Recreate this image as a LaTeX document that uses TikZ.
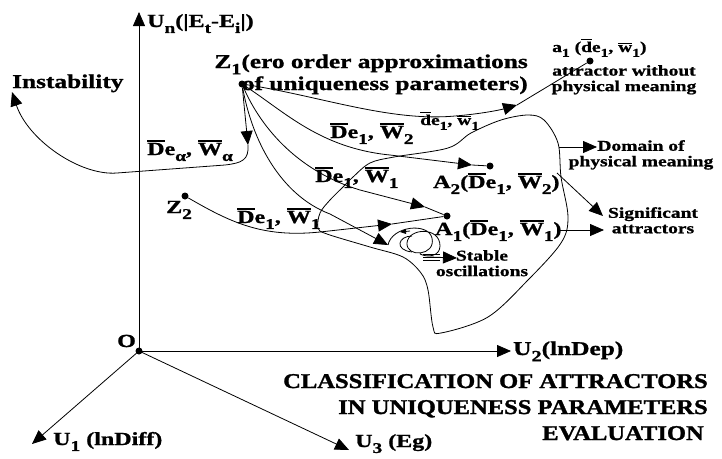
\documentclass[tikz,border=0pt]{standalone}
\usepackage{fontspec}
\setmainfont{Liberation Serif}[FakeStretch=1.3,FakeBold=1.1]
\newfontfamily\ttlfont{Liberation Serif}[FakeStretch=1.17,FakeBold=1.4]
\usepackage{graphicx}
\usetikzlibrary{arrows.meta}
\newcommand\sbs[1]{\raisebox{-0.32em}{\scalebox{0.8}{#1}}}
\newcommand\ovl[1]{\vbox{\hrule height 1.3pt\kern 1.2pt\hbox{#1}}}
\newcommand\smfont{\bfseries\fontsize{15}{15.5}\selectfont}
\begin{document}
\begin{tikzpicture}[x=1pt,y=-1pt,
 ln/.style={line width=0.8pt},
 arr/.style={ln,-{Triangle[length=14pt,width=12pt]}},
 dot/.style={circle,fill,inner sep=0pt,minimum size=7pt},
 lab/.style={inner sep=0pt,font=\bfseries\fontsize{18.5}{20}\selectfont},
 big/.style={inner sep=0pt,font=\bfseries\fontsize{19.5}{21}\selectfont},
 sml/.style={inner sep=0pt,font=\smfont},
 ttl/.style={inner sep=0pt,font=\ttlfont\bfseries\fontsize{21}{24}\selectfont}]
\useasboundingbox[fill=white] (0,0) rectangle (722,458);
% dots
\node[dot] (O) at (139,351) {};
\node[dot] (z1) at (242,84) {};
\node[dot] (z2) at (185,196) {};
\node[dot] (A1) at (447,216) {};
\node[dot] (A2) at (490,166) {};
\node[dot] (a1) at (590,61) {};
% axes
\coordinate (unTip) at (139,12);
\coordinate (u2Tip) at (511,351);
\coordinate (u1Tip) at (32,444);
\coordinate (u3Tip) at (349,450);
\draw[arr] (O.center) -- (unTip);
\draw[arr] (O.center) -- (u2Tip);
\draw[arr] (O.center) -- (u1Tip);
\draw[arr] (O.center) -- (u3Tip);
% domain of physical meaning
\draw[ln] plot[smooth cycle, tension=0.55] coordinates {(353,177) (343,187) (330,200) (320,213) (318,228) (327,234) (370,247) (403,257) (421,273) (428,290) (433,327) (441,333) (488,317) (528,280) (561,243) (568,217) (561,177) (558,143) (544,120) (528,115) (501,120) (471,133) (448,148) (394,157) (370,163)};
% Z1 -> instability
\coordinate (ti1) at (248,145);
\coordinate (tins) at (12,92);
\draw[arr] (z1) -- (ti1);
\draw[arr] (ti1) .. controls (249,160) and (242,163) .. (225,165) -- (117,173) .. controls (80,176) and (28,140) .. (tins);
% Z1 -> a1
\coordinate (ta1) at (517,105);
\draw[arr] (z1) .. controls (320,96) and (390,122) .. (455,116) .. controls (480,114) and (500,110) .. (ta1);
\draw[ln] (ta1) -- (a1);
% Z1 -> A2
\coordinate (tA2) at (472,165);
\draw[arr] (z1) .. controls (285,112) and (320,148) .. (390,155) -- (tA2);
\draw[ln] (tA2) -- (A2);
% Z1 -> A1
\coordinate (tA1) at (425,207);
\draw[arr] (z1) .. controls (262,130) and (300,172) .. (360,190) -- (tA1);
\draw[ln] (tA1) -- (A1);
% Z1 -> stable oscillations
\coordinate (tso) at (388,245);
\draw[arr] (z1) .. controls (252,140) and (280,195) .. (330,214) -- (tso);
% Z2 -> A1
\coordinate (tz2) at (392,224);
\draw[arr] (z2) .. controls (230,222) and (262,238) .. (320,232) -- (tz2);
\draw[ln] (tz2) -- (A1);
% spiral of stable oscillations
\draw[ln] (tso) .. controls (392,226) and (428,222) .. (432,238) .. controls (436,256) and (406,258) .. (407,243) .. controls (408,228) and (440,226) .. (440,246) .. controls (440,256) and (428,258) .. (420,254);
\draw[ln] (412,236) .. controls (398,236) and (394,250) .. (412,252);
\draw[ln,-{Triangle[length=6pt,width=5pt]}] (410,231) -- (400,232);
\draw[ln] (423,254) -- (440,254) (423,257) -- (440,257) (423,260) -- (440,260);
\coordinate (so0) at (430,257);
\coordinate (so1) at (457,258);
\draw[arr] (so0) -- (so1);
% domain and significant arrows
\coordinate (d0) at (559,147);
\coordinate (d1) at (597,147);
\draw[arr] (d0) -- (d1);
\coordinate (s0) at (557,173);
\coordinate (s1) at (603,216);
\draw[arr] (s0) -- (s1);
\coordinate (s2) at (557,230);
\coordinate (s3) at (604,230);
\draw[arr] (s2) -- (s3);
% labels
\node[lab,anchor=base west] (unl) at (147,27) {U\sbs{n}(|E\sbs{t}-E\sbs{i}|)};
\node[big,anchor=base west] (inst) at (12,88) {Instability};
\node[big,anchor=base east] (z1a) at (528,68) {Z\sbs{1}(ero order approximations};
\node[big,anchor=base east] (z1b) at (528,90) {of uniqueness parameters)};
\node[lab,anchor=base west] (dea) at (147,155) {\ovl{D}e\sbs{α}, \ovl{W}\sbs{α}};
\node[lab,anchor=base west] (z2l) at (166,213) {Z\sbs{2}};
\node[lab,anchor=base west] (l6) at (237,223) {\ovl{D}e\sbs{1}, \ovl{W}\sbs{1}};
\node[lab,anchor=base west] (l7) at (330,138) {\ovl{D}e\sbs{1}, \ovl{W}\sbs{2}};
\node[lab,anchor=base west] (l8) at (315,182) {\ovl{D}e\sbs{1}, \ovl{W}\sbs{1}};
\node[sml,anchor=base west] (l9) at (420,125) {\ovl{d}e\sbs{1}, \ovl{w}\sbs{1}};
\node[sml,anchor=base west] (a1l) at (552,52) {a\sbs{1} (\ovl{d}e\sbs{1}, \ovl{w}\sbs{1})};
\node[sml,align=center,anchor=north] (a1m) at (624,65) {attractor without\\physical meaning};
\node[lab,anchor=base west] (A2l) at (433,188) {A\sbs{2}(\ovl{D}e\sbs{1}, \ovl{W}\sbs{2})};
\node[lab,anchor=base west] (A1l) at (435,235) {A\sbs{1}(\ovl{D}e\sbs{1}, \ovl{W}\sbs{1})};
\node[sml,align=center,anchor=north] (dom) at (641,140) {Domain of\\physical meaning};
\node[sml,align=center,anchor=north] (sig) at (653,207) {Significant\\attractors};
\node[sml,align=center,anchor=north] (st) at (482,250) {Stable\\oscillations};
\node[lab,anchor=base west] (ol) at (117,347) {O};
\node[lab,anchor=base west] (u1l) at (53,445) {U\sbs{1} (lnDiff)};
\node[big,anchor=base west] (u2l) at (513,355) {U\sbs{2}(lnDep)};
\node[lab,anchor=base west] (u3l) at (355,447) {U\sbs{3} (Eg)};
\node[ttl,anchor=base east] (t1) at (708,388) {CLASSIFICATION OF ATTRACTORS};
\node[ttl,anchor=base east] (t2) at (708,414) {IN UNIQUENESS PARAMETERS};
\node[ttl,anchor=base east] (t3) at (704,440) {EVALUATION};
\end{tikzpicture}
\end{document}
